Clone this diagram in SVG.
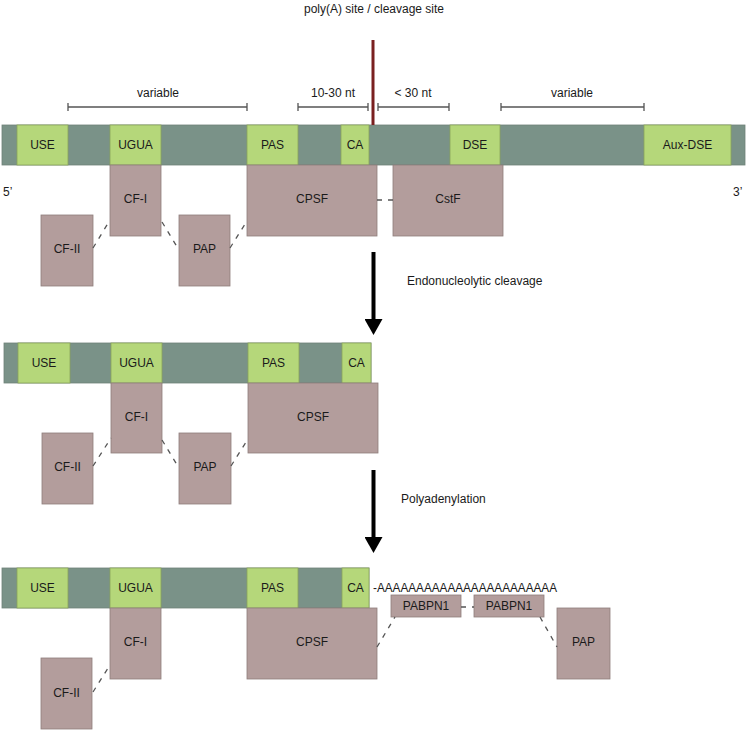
<svg xmlns="http://www.w3.org/2000/svg" width="747" height="732" viewBox="0 0 747 732">
<style>
text{font-family:"Liberation Sans",Arial,sans-serif;font-size:12px;fill:#1a1a1a}
.c{text-anchor:middle}
.strand{fill:#7a9288;stroke:#6f8279;stroke-width:0.8}
.el{fill:#b5d77a;stroke:#8aa35a;stroke-width:0.8}
.prot{fill:#b39d9c;stroke:#8e7d7c;stroke-width:0.8}
.dash{stroke:#555;stroke-width:1.3;stroke-dasharray:5 6;fill:none}
.br{stroke:#555;stroke-width:1.3;fill:none}
</style>
<defs>
<marker id="ah" markerWidth="22" markerHeight="18" refX="0" refY="9" orient="auto" markerUnits="userSpaceOnUse">
<path d="M0,0 L16,9 L0,18 Z" fill="#000"/>
</marker>
</defs>

<text class="c" x="374" y="13">poly(A) site / cleavage site</text>

<!-- brackets -->
<g id="brackets">
<path class="br" d="M68,107 H247 M68,103 V111 M247,103 V111"/>
<text class="c" x="158" y="97">variable</text>
<path class="br" d="M298,107 H368 M298,103 V111 M368,103 V111"/>
<text class="c" x="333" y="97">10-30 nt</text>
<path class="br" d="M378,107 H449 M378,103 V111 M449,103 V111"/>
<text class="c" x="413" y="97">&lt; 30 nt</text>
<path class="br" d="M501,107 H644 M501,103 V111 M644,103 V111"/>
<text class="c" x="572" y="97">variable</text>
</g>

<!-- Row 1 -->
<g id="strand1">
<rect class="strand" x="2" y="125" width="743" height="40"/>
</g>
<g id="use1"><rect class="el" x="17" y="125" width="51" height="40"/><text class="c" x="42.5" y="149">USE</text></g>
<g id="ugua1"><rect class="el" x="110" y="125" width="51" height="40"/><text class="c" x="135.5" y="149">UGUA</text></g>
<g id="pas1"><rect class="el" x="247" y="125" width="51" height="40"/><text class="c" x="272.5" y="149">PAS</text></g>
<g id="ca1"><rect class="el" x="341" y="125" width="28" height="40"/><text class="c" x="355" y="149">CA</text></g>
<g id="dse1"><rect class="el" x="450" y="125" width="50" height="40"/><text class="c" x="475" y="149">DSE</text></g>
<g id="auxdse1"><rect class="el" x="644" y="125" width="87" height="40"/><text class="c" x="687.5" y="149">Aux-DSE</text></g>
<g id="site"><rect x="371.5" y="40" width="3" height="85" fill="#7a2020"/></g>
<text x="3" y="196">5’</text>
<text x="733" y="196">3’</text>

<g id="cfi1"><rect class="prot" x="110" y="165" width="51" height="71"/><text class="c" x="135.5" y="203">CF-I</text></g>
<g id="cfii1"><rect class="prot" x="41" y="215" width="52" height="71"/><text class="c" x="67" y="253">CF-II</text></g>
<g id="pap1"><rect class="prot" x="179" y="215" width="51" height="71"/><text class="c" x="204.5" y="253">PAP</text></g>
<g id="cpsf1"><rect class="prot" x="247" y="165" width="130" height="71"/><text class="c" x="312" y="203">CPSF</text></g>
<g id="cstf1"><rect class="prot" x="393" y="165" width="110" height="71"/><text class="c" x="448" y="203">CstF</text></g>

<!-- Row 2 -->
<g id="strand2"><rect class="strand" x="4" y="343" width="367" height="40"/></g>
<g id="use2"><rect class="el" x="18" y="343" width="52" height="40"/><text class="c" x="44" y="367">USE</text></g>
<g id="ugua2"><rect class="el" x="111" y="343" width="51" height="40"/><text class="c" x="136.5" y="367">UGUA</text></g>
<g id="pas2"><rect class="el" x="248" y="343" width="51" height="40"/><text class="c" x="273.5" y="367">PAS</text></g>
<g id="ca2"><rect class="el" x="342" y="343" width="29" height="40"/><text class="c" x="356.5" y="367">CA</text></g>

<g id="cfi2"><rect class="prot" x="111" y="383" width="51" height="70"/><text class="c" x="136.5" y="421">CF-I</text></g>
<g id="cfii2"><rect class="prot" x="42" y="433" width="51" height="71"/><text class="c" x="67.5" y="471">CF-II</text></g>
<g id="pap2"><rect class="prot" x="179" y="433" width="52" height="71"/><text class="c" x="205" y="471">PAP</text></g>
<g id="cpsf2"><rect class="prot" x="248" y="383" width="130" height="70"/><text class="c" x="313" y="421">CPSF</text></g>

<!-- Row 3 -->
<g id="strand3"><rect class="strand" x="2" y="568" width="367" height="40"/></g>
<g id="use3"><rect class="el" x="17" y="568" width="51" height="40"/><text class="c" x="42.5" y="592">USE</text></g>
<g id="ugua3"><rect class="el" x="110" y="568" width="51" height="40"/><text class="c" x="135.5" y="592">UGUA</text></g>
<g id="pas3"><rect class="el" x="247" y="568" width="51" height="40"/><text class="c" x="272.5" y="592">PAS</text></g>
<g id="ca3"><rect class="el" x="342" y="568" width="27" height="40"/><text class="c" x="355.5" y="592">CA</text></g>
<text x="373" y="592" textLength="184" lengthAdjust="spacingAndGlyphs">-AAAAAAAAAAAAAAAAAAAAAAA</text>

<g id="cfi3"><rect class="prot" x="110" y="608" width="51" height="71"/><text class="c" x="135.5" y="646">CF-I</text></g>
<g id="cfii3"><rect class="prot" x="41" y="658" width="51" height="71"/><text class="c" x="66.5" y="697">CF-II</text></g>
<g id="cpsf3"><rect class="prot" x="247" y="608" width="130" height="71"/><text class="c" x="312" y="646">CPSF</text></g>
<g id="pabpn1a"><rect class="prot" x="391" y="595" width="70" height="22"/><text class="c" x="426" y="610">PABPN1</text></g>
<g id="pabpn1b"><rect class="prot" x="474" y="595" width="70" height="22"/><text class="c" x="509" y="610">PABPN1</text></g>
<g id="pap3"><rect class="prot" x="557" y="608" width="53" height="71"/><text class="c" x="583.5" y="646">PAP</text></g>

<!-- Connectors -->
<g id="connectors">
<path class="dash" d="M93,248 L110,220"/>
<path class="dash" d="M162,222 L179,250"/>
<path class="dash" d="M230,248 L247,221"/>
<path class="dash" d="M377,200 H393" stroke-dasharray="4 6"/>
<path class="dash" d="M93,466 L111,438"/>
<path class="dash" d="M162,440 L179,468"/>
<path class="dash" d="M231,466 L248,439"/>
<path class="dash" d="M93,692 L110,665"/>
<path class="dash" d="M377,647 L395,617"/>
<path class="dash" d="M461,607 H474" stroke-dasharray="3 5"/>
<path class="dash" d="M540,617 L557,647"/>
<line x1="373.5" y1="252" x2="373.5" y2="319" stroke="#000" stroke-width="4" marker-end="url(#ah)" transform="rotate(0)"/>
<line x1="373.5" y1="470" x2="373.5" y2="537" stroke="#000" stroke-width="4" marker-end="url(#ah)"/>
</g>
<text x="407" y="285">Endonucleolytic cleavage</text>
<text x="401" y="503">Polyadenylation</text>
</svg>
